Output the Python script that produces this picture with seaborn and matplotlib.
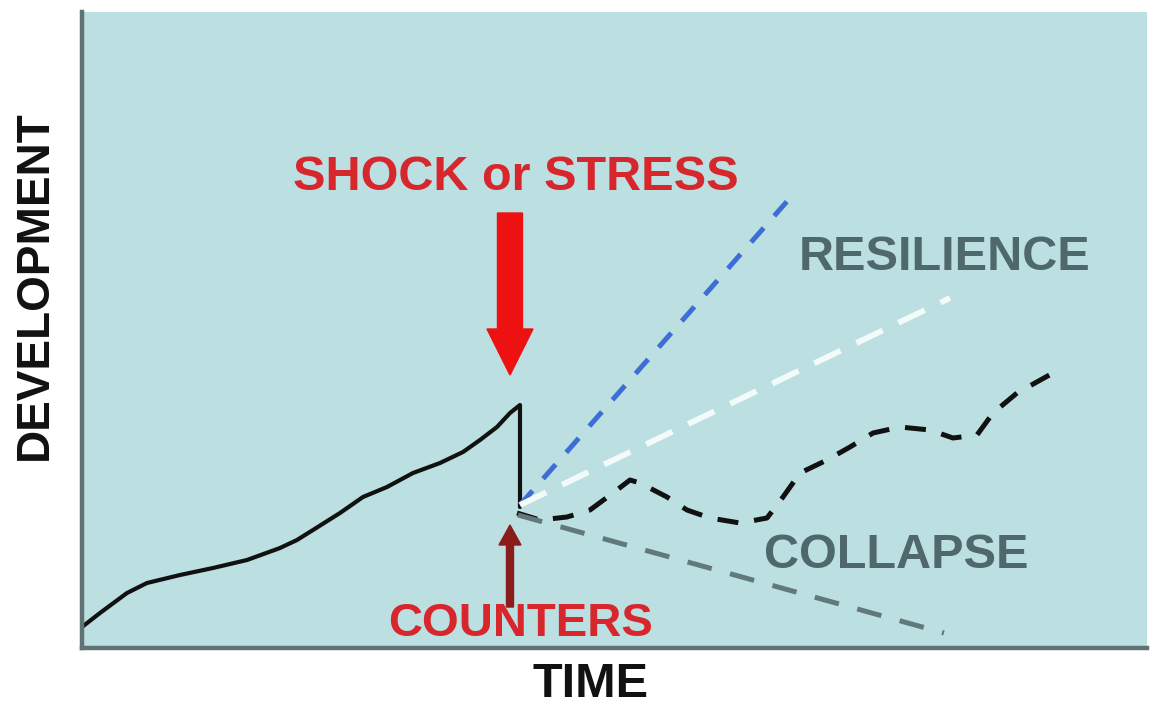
import pandas as pd
import matplotlib
matplotlib.use('Agg')
import matplotlib.pyplot as plt
import seaborn as sns

# values (time, development)
main_x = [0, 18, 45, 65, 98, 131, 165, 198, 215, 231, 258, 281, 305, 331,
          358, 381, 398, 415, 428, 438, 438]
main_y = [21, 35, 55, 65, 73, 80, 88, 100, 108, 118, 135, 151, 161, 175,
          185, 196, 208, 221, 235, 243, 141]

resilient_x = [438, 708]
resilient_y = [143, 450]

recover_x = [438, 868]
recover_y = [143, 350]

counter_x = [435, 458, 485, 508, 531, 548, 558, 585, 605, 628, 658, 685, 701,
             718, 745, 768, 791, 818, 848, 871, 895, 911, 935, 971]
counter_y = [135, 128, 131, 138, 155, 168, 165, 151, 138, 130, 125, 130, 151,
             175, 188, 201, 215, 221, 218, 210, 213, 235, 255, 275]

collapse_x = [436, 862]
collapse_y = [133, 15]

shock_x, shock_top, shock_tip = 428, 435, 273
counters_x, counters_base, counters_tip = 428, 41, 123

sns.set_style('white')
plt.rcParams['font.family'] = ['Liberation Sans', 'DejaVu Sans']

fig = plt.figure(figsize=(11.53, 7.15), dpi=100)
ax = fig.add_axes([0.0711, 0.0937, 0.9237, 0.8895])
ax.set_facecolor('#bcdfe2')

sns.lineplot(x=main_x, y=main_y, ax=ax, color='#111111', linewidth=3,
             estimator=None, sort=False)
sns.lineplot(x=resilient_x, y=resilient_y, ax=ax, color='#3d6ed6', linewidth=3.6,
             estimator=None, sort=False, linestyle=(0, (3.8, 3.2)))
sns.lineplot(x=recover_x, y=recover_y, ax=ax, color='#f2fafa', linewidth=4.2,
             estimator=None, sort=False, linestyle=(0, (5, 3)))
sns.lineplot(x=counter_x, y=counter_y, ax=ax, color='#111111', linewidth=3.6,
             estimator=None, sort=False, linestyle=(0, (4.2, 3.2)))
sns.lineplot(x=collapse_x, y=collapse_y, ax=ax, color='#62797c', linewidth=3.6,
             estimator=None, sort=False, linestyle=(0, (5, 3.8)))

ax.arrow(shock_x, shock_top, 0, shock_tip - shock_top, width=25, head_width=46,
         head_length=46, length_includes_head=True, color='#ee1111', zorder=5)
ax.arrow(counters_x, counters_base, 0, counters_tip - counters_base, width=7,
         head_width=22, head_length=20, length_includes_head=True,
         color='#8b1c1c', zorder=5)

ax.set_xlim(0, 1065)
ax.set_ylim(0, 636)
ax.set_xticks([])
ax.set_yticks([])

red = '#d8262d'
grey = '#4f686c'
ax.text(434, 471, 'SHOCK or STRESS', color=red, fontsize=35, fontweight='bold',
        ha='center', va='center')
ax.text(863, 391, 'RESILIENCE', color=grey, fontsize=35, fontweight='bold',
        ha='center', va='center')
ax.text(814, 93, 'COLLAPSE', color=grey, fontsize=35, fontweight='bold',
        ha='center', va='center')
ax.text(439, 24, 'COUNTERS', color=red, fontsize=34, fontweight='bold',
        ha='center', va='center')

ax.set_xlabel('TIME', fontsize=35, fontweight='bold', color='#111111')
ax.set_ylabel('DEVELOPMENT', fontsize=33, fontweight='bold', color='#111111')
ax.xaxis.set_label_coords(0.478, -0.022)
ax.yaxis.set_label_coords(-0.024, 0.57)

for side in ['top', 'right']:
    ax.spines[side].set_visible(False)
for side in ['left', 'bottom']:
    ax.spines[side].set_color('#5f7375')
    ax.spines[side].set_linewidth(3.2)

fig.savefig('out.png', dpi=100)
